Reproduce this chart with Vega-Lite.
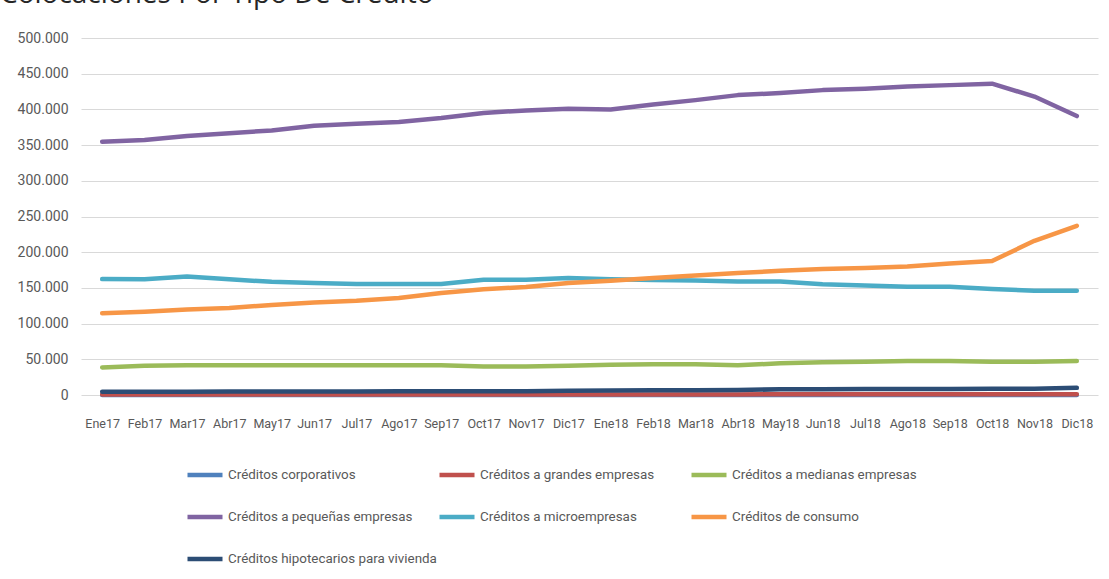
{
  "$schema": "https://vega.github.io/schema/vega-lite/v6.json",
  "width": 1017,
  "height": 357,
  "autosize": {"type": "none"},
  "padding": {"left": 81, "top": 38, "right": 11, "bottom": 184},
  "background": "white",
  "config": {
    "locale": {"number": {"decimal": ",", "thousands": ".", "grouping": [3], "currency": ["$", ""]}},
    "view": {"stroke": null}
  },
  "title": {
    "text": "Colocaciones Por Tipo De Crédito",
    "anchor": "start",
    "frame": "group",
    "font": "Open Sans",
    "fontSize": 28,
    "fontWeight": "normal",
    "color": "#262626",
    "baseline": "alphabetic",
    "dx": -81,
    "dy": 22,
    "offset": 22
  },
  "data": {
    "values": [
      {"mes": "Ene17", "Créditos corporativos": 0, "Créditos a grandes empresas": 600, "Créditos a medianas empresas": 38500, "Créditos a pequeñas empresas": 354800, "Créditos a microempresas": 162300, "Créditos de consumo": 114600, "Créditos hipotecarios para vivienda": 4500},
      {"mes": "Feb17", "Créditos corporativos": 0, "Créditos a grandes empresas": 600, "Créditos a medianas empresas": 41000, "Créditos a pequeñas empresas": 357000, "Créditos a microempresas": 162000, "Créditos de consumo": 116500, "Créditos hipotecarios para vivienda": 4600},
      {"mes": "Mar17", "Créditos corporativos": 0, "Créditos a grandes empresas": 600, "Créditos a medianas empresas": 41500, "Créditos a pequeñas empresas": 362900, "Créditos a microempresas": 166000, "Créditos de consumo": 119700, "Créditos hipotecarios para vivienda": 4700},
      {"mes": "Abr17", "Créditos corporativos": 0, "Créditos a grandes empresas": 600, "Créditos a medianas empresas": 41500, "Créditos a pequeñas empresas": 366700, "Créditos a microempresas": 162000, "Créditos de consumo": 122000, "Créditos hipotecarios para vivienda": 4800},
      {"mes": "May17", "Créditos corporativos": 0, "Créditos a grandes empresas": 600, "Créditos a medianas empresas": 41500, "Créditos a pequeñas empresas": 370500, "Créditos a microempresas": 158500, "Créditos de consumo": 126000, "Créditos hipotecarios para vivienda": 4900},
      {"mes": "Jun17", "Créditos corporativos": 0, "Créditos a grandes empresas": 600, "Créditos a medianas empresas": 41500, "Créditos a pequeñas empresas": 377000, "Créditos a microempresas": 157000, "Créditos de consumo": 129600, "Créditos hipotecarios para vivienda": 5000},
      {"mes": "Jul17", "Créditos corporativos": 0, "Créditos a grandes empresas": 600, "Créditos a medianas empresas": 41500, "Créditos a pequeñas empresas": 380000, "Créditos a microempresas": 155600, "Créditos de consumo": 132000, "Créditos hipotecarios para vivienda": 5000},
      {"mes": "Ago17", "Créditos corporativos": 0, "Créditos a grandes empresas": 600, "Créditos a medianas empresas": 41500, "Créditos a pequeñas empresas": 382400, "Créditos a microempresas": 155600, "Créditos de consumo": 135800, "Créditos hipotecarios para vivienda": 5100},
      {"mes": "Sep17", "Créditos corporativos": 0, "Créditos a grandes empresas": 600, "Créditos a medianas empresas": 41500, "Créditos a pequeñas empresas": 388000, "Créditos a microempresas": 155600, "Créditos de consumo": 142800, "Créditos hipotecarios para vivienda": 5200},
      {"mes": "Oct17", "Créditos corporativos": 0, "Créditos a grandes empresas": 600, "Créditos a medianas empresas": 40000, "Créditos a pequeñas empresas": 395000, "Créditos a microempresas": 161500, "Créditos de consumo": 148000, "Créditos hipotecarios para vivienda": 5300},
      {"mes": "Nov17", "Créditos corporativos": 0, "Créditos a grandes empresas": 600, "Créditos a medianas empresas": 40000, "Créditos a pequeñas empresas": 398600, "Créditos a microempresas": 161500, "Créditos de consumo": 151400, "Créditos hipotecarios para vivienda": 5400},
      {"mes": "Dic17", "Créditos corporativos": 0, "Créditos a grandes empresas": 700, "Créditos a medianas empresas": 41000, "Créditos a pequeñas empresas": 401000, "Créditos a microempresas": 164000, "Créditos de consumo": 157000, "Créditos hipotecarios para vivienda": 6000},
      {"mes": "Ene18", "Créditos corporativos": 0, "Créditos a grandes empresas": 800, "Créditos a medianas empresas": 42500, "Créditos a pequeñas empresas": 400000, "Créditos a microempresas": 162000, "Créditos de consumo": 160000, "Créditos hipotecarios para vivienda": 6300},
      {"mes": "Feb18", "Créditos corporativos": 0, "Créditos a grandes empresas": 800, "Créditos a medianas empresas": 43000, "Créditos a pequeñas empresas": 407000, "Créditos a microempresas": 161000, "Créditos de consumo": 164000, "Créditos hipotecarios para vivienda": 6500},
      {"mes": "Mar18", "Créditos corporativos": 0, "Créditos a grandes empresas": 800, "Créditos a medianas empresas": 43000, "Créditos a pequeñas empresas": 413000, "Créditos a microempresas": 160500, "Créditos de consumo": 167400, "Créditos hipotecarios para vivienda": 6700},
      {"mes": "Abr18", "Créditos corporativos": 0, "Créditos a grandes empresas": 800, "Créditos a medianas empresas": 41500, "Créditos a pequeñas empresas": 420000, "Créditos a microempresas": 159000, "Créditos de consumo": 170700, "Créditos hipotecarios para vivienda": 6900},
      {"mes": "May18", "Créditos corporativos": 0, "Créditos a grandes empresas": 1000, "Créditos a medianas empresas": 44500, "Créditos a pequeñas empresas": 423000, "Créditos a microempresas": 159000, "Créditos de consumo": 174000, "Créditos hipotecarios para vivienda": 8000},
      {"mes": "Jun18", "Créditos corporativos": 0, "Créditos a grandes empresas": 1000, "Créditos a medianas empresas": 46000, "Créditos a pequeñas empresas": 427000, "Créditos a microempresas": 155000, "Créditos de consumo": 176300, "Créditos hipotecarios para vivienda": 8200},
      {"mes": "Jul18", "Créditos corporativos": 0, "Créditos a grandes empresas": 1000, "Créditos a medianas empresas": 46500, "Créditos a pequeñas empresas": 429000, "Créditos a microempresas": 153300, "Créditos de consumo": 178000, "Créditos hipotecarios para vivienda": 8300},
      {"mes": "Ago18", "Créditos corporativos": 0, "Créditos a grandes empresas": 1000, "Créditos a medianas empresas": 47500, "Créditos a pequeñas empresas": 432000, "Créditos a microempresas": 151500, "Créditos de consumo": 180000, "Créditos hipotecarios para vivienda": 8400},
      {"mes": "Sep18", "Créditos corporativos": 0, "Créditos a grandes empresas": 1000, "Créditos a medianas empresas": 47500, "Créditos a pequeñas empresas": 434000, "Créditos a microempresas": 151500, "Créditos de consumo": 184300, "Créditos hipotecarios para vivienda": 8500},
      {"mes": "Oct18", "Créditos corporativos": 0, "Créditos a grandes empresas": 1000, "Créditos a medianas empresas": 46500, "Créditos a pequeñas empresas": 436000, "Créditos a microempresas": 148500, "Créditos de consumo": 187600, "Créditos hipotecarios para vivienda": 8600},
      {"mes": "Nov18", "Créditos corporativos": 0, "Créditos a grandes empresas": 1000, "Créditos a medianas empresas": 46500, "Créditos a pequeñas empresas": 418000, "Créditos a microempresas": 146000, "Créditos de consumo": 216000, "Créditos hipotecarios para vivienda": 8700},
      {"mes": "Dic18", "Créditos corporativos": 0, "Créditos a grandes empresas": 1000, "Créditos a medianas empresas": 47500, "Créditos a pequeñas empresas": 390700, "Créditos a microempresas": 146000, "Créditos de consumo": 237000, "Créditos hipotecarios para vivienda": 10000}
    ]
  },
  "transform": [
    {
      "fold": [
        "Créditos corporativos",
        "Créditos a grandes empresas",
        "Créditos a medianas empresas",
        "Créditos a pequeñas empresas",
        "Créditos a microempresas",
        "Créditos de consumo",
        "Créditos hipotecarios para vivienda"
      ],
      "as": ["serie", "valor"]
    }
  ],
  "mark": {"type": "line", "strokeWidth": 4.5, "strokeCap": "round", "strokeJoin": "round"},
  "encoding": {
    "x": {
      "field": "mes",
      "type": "ordinal",
      "sort": null,
      "scale": {"padding": 0.5},
      "axis": {
        "title": null,
        "labelAngle": 0,
        "domain": false,
        "ticks": false,
        "grid": false,
        "labelFont": "Roboto",
        "labelFontSize": 12.5,
        "labelColor": "#595959",
        "labelPadding": 22
      }
    },
    "y": {
      "field": "valor",
      "type": "quantitative",
      "scale": {"domain": [0, 500000]},
      "axis": {
        "title": null,
        "values": [0, 50000, 100000, 150000, 200000, 250000, 300000, 350000, 400000, 450000, 500000],
        "format": ",d",
        "domain": false,
        "ticks": false,
        "grid": true,
        "gridColor": "#d9d9d9",
        "gridWidth": 1,
        "labelFont": "Roboto",
        "labelFontSize": 14,
        "labelColor": "#595959",
        "labelPadding": 13
      }
    },
    "color": {
      "field": "serie",
      "type": "nominal",
      "scale": {
        "domain": [
          "Créditos corporativos",
          "Créditos a grandes empresas",
          "Créditos a medianas empresas",
          "Créditos a pequeñas empresas",
          "Créditos a microempresas",
          "Créditos de consumo",
          "Créditos hipotecarios para vivienda"
        ],
        "range": ["#4F81BD", "#C0504D", "#9BBB59", "#8064A2", "#4BACC6", "#F79646", "#2C4D75"]
      },
      "legend": {
        "title": null,
        "orient": "none",
        "legendX": 104,
        "legendY": 417,
        "direction": "horizontal",
        "columns": 3,
        "gridAlign": "all",
        "symbolType": "stroke",
        "symbolSize": 1225,
        "symbolStrokeWidth": 4.5,
        "labelFont": "Roboto",
        "labelFontSize": 13.4,
        "labelColor": "#595959",
        "labelLimit": 400,
        "labelOffset": 3,
        "columnPadding": -7,
        "rowPadding": 13,
        "padding": 0
      }
    }
  }
}
